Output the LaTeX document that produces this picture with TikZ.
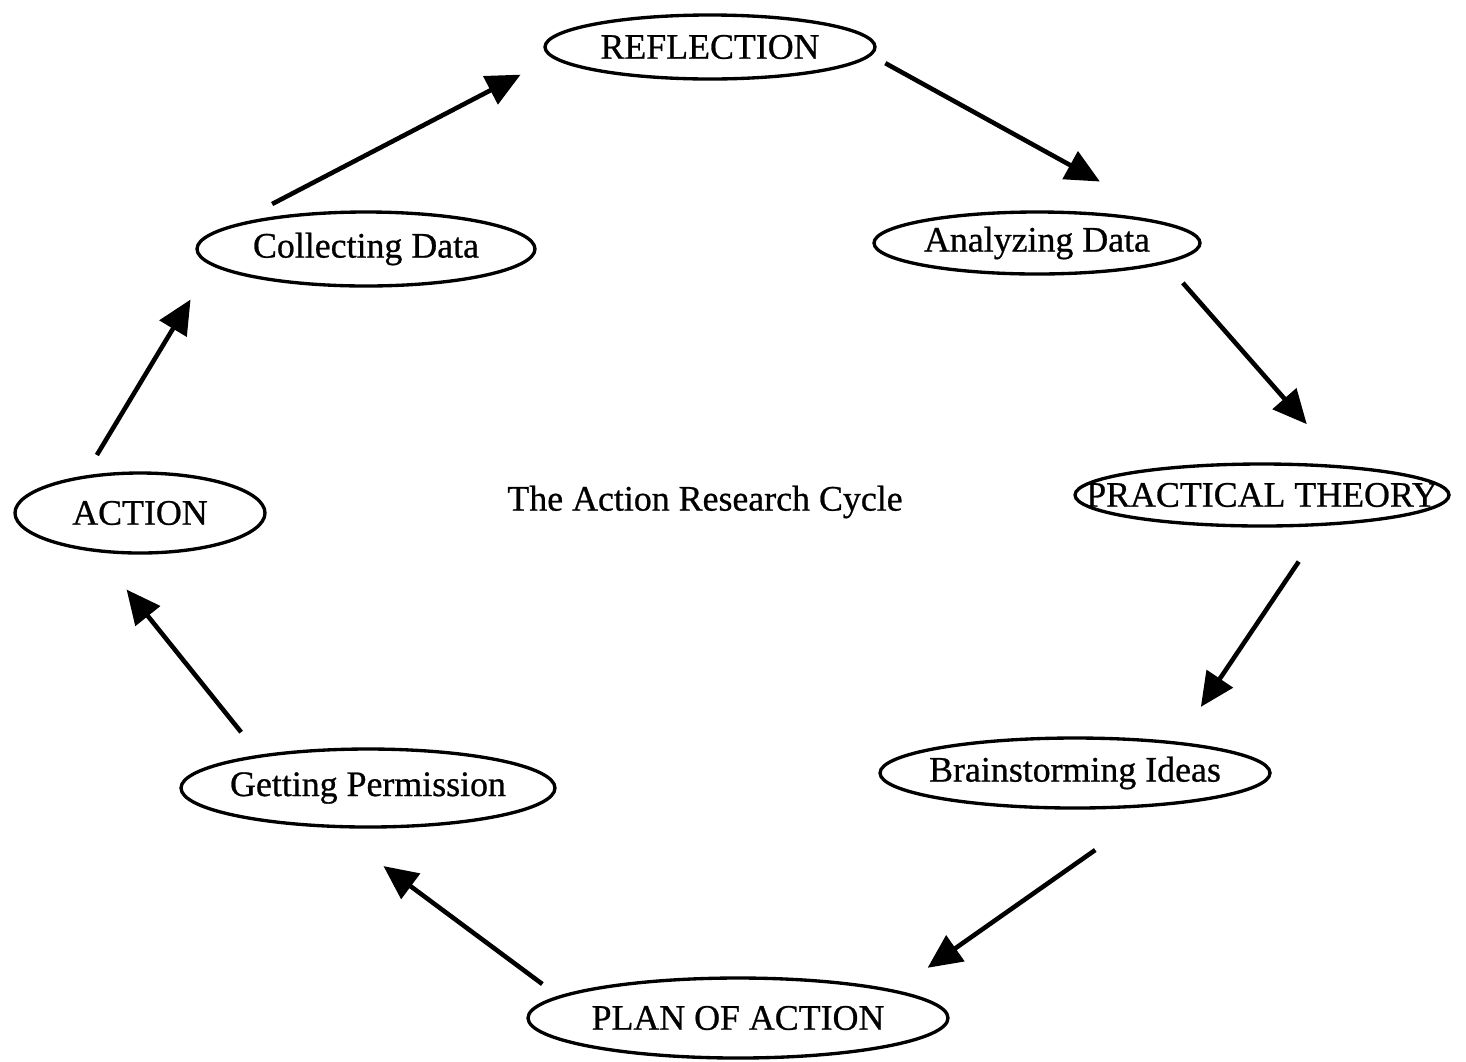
\documentclass[tikz,border=0pt]{standalone}
\usepackage{fontspec}
\setmainfont{Liberation Serif}
\usetikzlibrary{shapes.geometric, arrows.meta}

\tikzset{
    stage/.style={ellipse, draw=black, line width=0.95pt, inner sep=0pt, fill=white},
    cyc/.style={line width=1.3pt, -{Triangle[length=3.4mm, width=3.1mm]}}
}

\begin{document}
\begin{tikzpicture}[x=0.1mm, y=-0.1mm, font=\fontsize{10.2}{12}\selectfont\addfontfeatures{FakeBold=0.7}]
    \useasboundingbox (0, 0) rectangle (1466, 1061);

    \node (refl)[stage, minimum width=33mm, minimum height=6.4mm, label=center:REFLECTION] at (710, 47) {};
    \node (anal)[stage, minimum width=32.6mm, minimum height=6.2mm, label=center:Analyzing Data] at (1037, 243) {};
    \node (prac)[stage, minimum width=37.4mm, minimum height=6.2mm, label=center:PRACTICAL THEORY] at (1262, 495) {};
    \node (brain)[stage, minimum width=39mm, minimum height=7mm, label=center:Brainstorming Ideas] at (1075, 773) {};
    \node (plan)[stage, minimum width=42mm, minimum height=8mm, label=center:PLAN OF ACTION] at (738, 1018) {};
    \node (perm)[stage, minimum width=37.4mm, minimum height=7.8mm, label=center:Getting Permission] at (368, 788) {};
    \node (act)[stage, minimum width=25mm, minimum height=8mm, label=center:ACTION] at (140, 513) {};
    \node (coll)[stage, minimum width=33.8mm, minimum height=7.4mm, label=center:Collecting Data] at (366, 249) {};

    \node (title) at (705, 502) {The Action Research Cycle};

    % the cycle, clockwise from the top
    \draw [cyc, shorten <=1.6mm, shorten >=11mm] (refl.357.5) -- (anal.3.6);
    \draw [cyc, shorten <=2.6mm, shorten >=5.5mm] (anal.351.5) -- (prac.20.3);
    \draw [cyc, shorten <=4.3mm, shorten >=4.2mm] (prac.333) -- (brain.17.3);
    \draw [cyc, shorten <=7.6mm, shorten >=3.9mm] (brain.338.7) -- (plan.10.6);
    \draw [cyc, shorten <=2mm, shorten >=6.4mm] (plan.173.3) -- (perm.228.6);
    \draw [cyc, shorten <=2.9mm, shorten >=4.8mm] (perm.163.1) -- (act.222);
    \draw [cyc, shorten <=2.4mm, shorten >=4mm] (act.146.6) -- (coll.186.7);
    \draw [cyc, shorten <=4.6mm, shorten >=3.6mm] (coll.170.1) -- (refl.184.9);
\end{tikzpicture}
\end{document}
